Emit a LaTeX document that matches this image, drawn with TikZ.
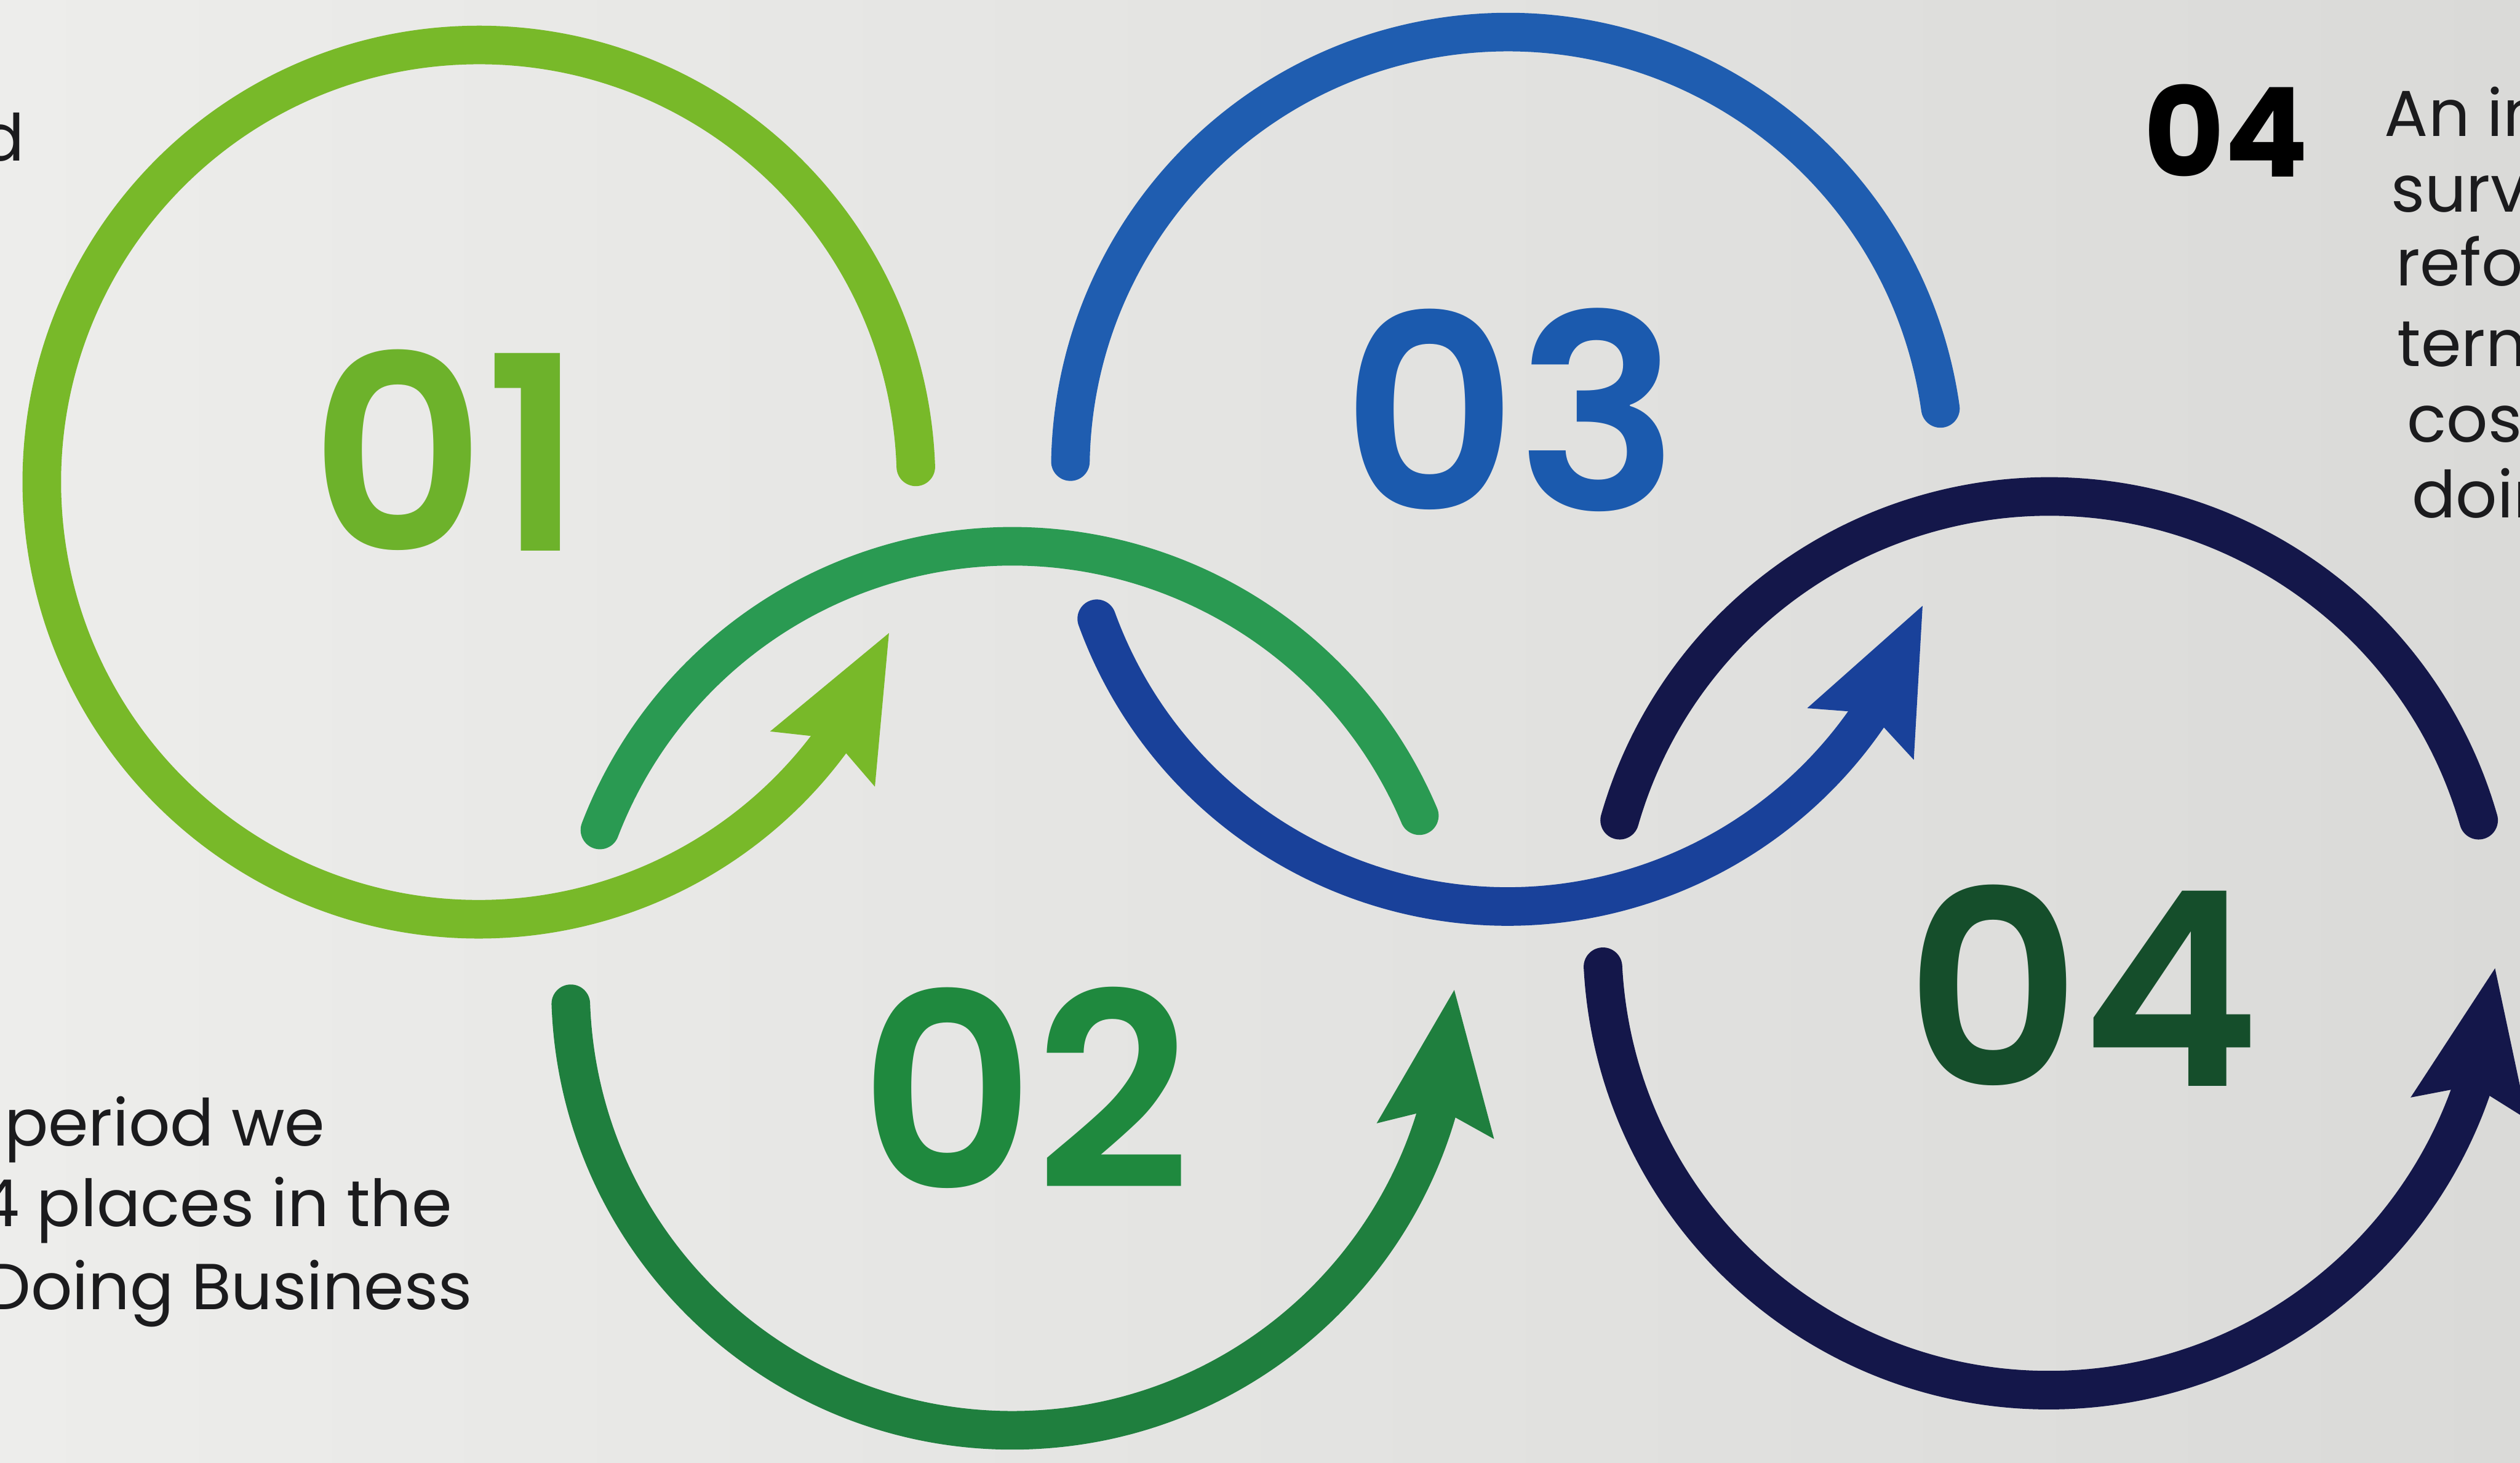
\documentclass[tikz,border=0pt]{standalone}
\usepackage{fontspec}
\setmainfont{Poppins}
\newfontfamily\numfont{Poppins SemiBold}
\usepackage{tikz}
\usetikzlibrary{arrows.meta,bending}
\definecolor{RingLime}{HTML}{78B929}
\definecolor{RingGreen}{HTML}{2A9A52}
\definecolor{RingGreenDeep}{HTML}{1F7F3E}
\definecolor{RingBlue}{HTML}{1F5DB0}
\definecolor{RingBlueDeep}{HTML}{19419A}
\definecolor{RingNavy}{HTML}{14174A}
\definecolor{NumLime}{HTML}{6DB22B}
\definecolor{NumGreen}{HTML}{1F893E}
\definecolor{NumBlue}{HTML}{1B5AAE}
\definecolor{NumForest}{HTML}{154E2B}
\definecolor{PaperLight}{HTML}{EDEDEB}
\definecolor{PaperDark}{HTML}{DADAD8}
\definecolor{BodyInk}{HTML}{1B1B1D}

\begin{document}
\begin{tikzpicture}[
    ring/.style={line width=2.4mm,line cap=round},
    ringarrow/.style={ring,-{Stealth[length=8.7mm,width=6.9mm,inset=1.2mm]}},
    bignum/.style={font=\numfont\fontsize{48}{48}\selectfont,inner sep=0pt},
    bodytext/.style={anchor=base west,inner sep=0pt,text=BodyInk,font=\fontsize{11.5}{14}\selectfont}
  ]
    \clip (0,0) rectangle (15.68,9.10);
    \shade[left color=PaperLight,right color=PaperDark] (0,0) rectangle (15.68,9.10);
    % ring centres
    \coordinate (c1) at (2.98,6.10);
    \coordinate (c2) at (6.30,2.95);
    \coordinate (c3) at (9.38,6.18);
    \coordinate (c4) at (12.75,3.23);
    % 01
    \draw[ringarrow,RingLime] ([shift={(2:2.72)}]c1) arc[start angle=2,end angle=340,radius=2.72];
    % 02
    \draw[ring,RingGreen] ([shift={(23:2.75)}]c2) arc[start angle=23,end angle=159,radius=2.75];
    \draw[ringarrow,RingGreenDeep] ([shift={(182:2.75)}]c2) arc[start angle=182,end angle=360,radius=2.75];
    % 03
    \draw[ring,RingBlue] ([shift={(8:2.72)}]c3) arc[start angle=8,end angle=179,radius=2.72];
    \draw[ringarrow,RingBlueDeep] ([shift={(200:2.72)}]c3) arc[start angle=200,end angle=342,radius=2.72];
    % 04
    \draw[ring,RingNavy] ([shift={(16:2.78)}]c4) arc[start angle=16,end angle=164,radius=2.78];
    \draw[ringarrow,RingNavy] ([shift={(183:2.78)}]c4) arc[start angle=183,end angle=357,radius=2.78];
    % numbers
    \node[bignum,text=NumLime] (n01) at (2.78,6.30) {01};
    \node[bignum,text=NumGreen] (n02) at (6.38,2.33) {02};
    \node[bignum,text=NumBlue] (n03) at (9.40,6.55) {03};
    \node[bignum,text=NumForest] (n04) at (12.96,2.97) {04};
    % side text
    \node[bodytext,anchor=base east] (topd) at (0.16,8.10) {d};
    \node[bodytext] (lineA) at (0.02,1.97) {period we};
    \node[bodytext] (lineB) at (-0.14,1.47) {4 places in the};
    \node[bodytext] (lineC) at (-0.10,0.95) {Doing Business};
    \node[bodytext,font=\fontsize{22}{22}\bfseries\selectfont,text=black] (head04) at (13.33,8.00) {04};
    \node[bodytext] (lineD) at (14.83,8.25) {An in};
    \node[bodytext] (lineE) at (14.87,7.78) {surve};
    \node[bodytext] (lineF) at (14.90,7.32) {refor};
    \node[bodytext] (lineG) at (14.91,6.82) {term};
    \node[bodytext] (lineH) at (14.97,6.35) {cost};
    \node[bodytext] (lineI) at (15.00,5.88) {doin};
  \end{tikzpicture}
\end{document}
